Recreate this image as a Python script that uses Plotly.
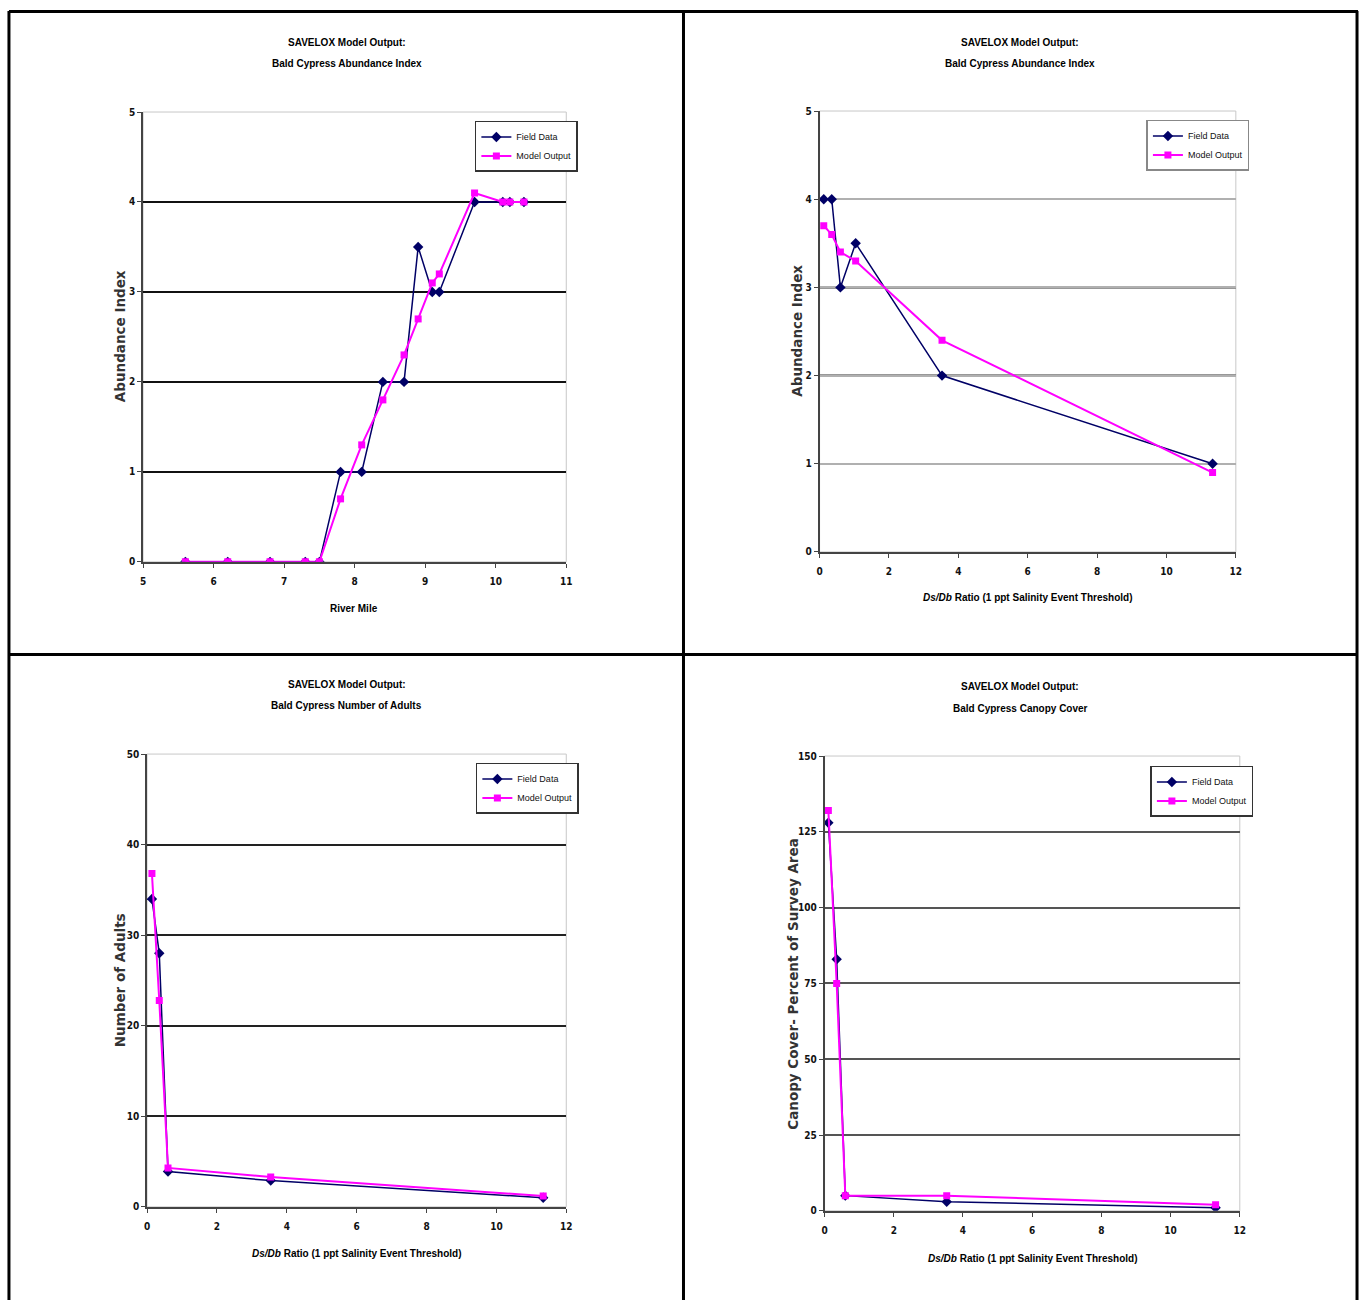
import plotly.graph_objects as go

W, H = 1367, 1306

# ---------------- data ----------------
river_mile = [5.6, 6.2, 6.8, 7.3, 7.5, 7.8, 8.1, 8.4, 8.7, 8.9, 9.1, 9.2, 9.7, 10.1, 10.2, 10.4]
abund_field_rm = [0, 0, 0, 0, 0, 1.0, 1.0, 2.0, 2.0, 3.5, 3.0, 3.0, 4.0, 4.0, 4.0, 4.0]
abund_model_rm = [0, 0, 0, 0, 0, 0.7, 1.3, 1.8, 2.3, 2.7, 3.1, 3.2, 4.1, 4.0, 4.0, 4.0]

dsdb_ratio = [0.12, 0.35, 0.6, 1.04, 3.53, 11.33]
abund_field_r = [4.0, 4.0, 3.0, 3.5, 2.0, 1.0]
abund_model_r = [3.7, 3.6, 3.4, 3.3, 2.4, 0.9]

dsdb_ratio_adults = [0.14, 0.35, 0.6, 3.54, 11.34]
adults_field = [34, 28, 3.9, 2.9, 1.0]
adults_model = [36.8, 22.8, 4.3, 3.3, 1.2]

dsdb_ratio_canopy = [0.11, 0.35, 0.6, 3.53, 11.3]
canopy_field = [128, 83, 5, 3, 1]
canopy_model = [132, 75, 5, 5, 2]

series_names = ["Field Data", "Model Output"]
title_line1 = "SAVELOX Model Output:"
titles_line2 = ["Bald Cypress Abundance Index", "Bald Cypress Abundance Index",
                "Bald Cypress Number of Adults", "Bald Cypress Canopy Cover"]
x_titles = ["River Mile", "<i>Ds/Db</i> Ratio (1 ppt Salinity Event Threshold)",
            "<i>Ds/Db</i> Ratio (1 ppt Salinity Event Threshold)",
            "<i>Ds/Db</i> Ratio (1 ppt Salinity Event Threshold)"]
y_titles = ["Abundance Index", "Abundance Index", "Number of Adults",
            "Canopy Cover- Percent of Survey Area"]

# ---------------- styling ----------------
FIELD_COLOR = "#000066"
MODEL_COLOR = "#ff00ff"
TITLE_FONT = "Liberation Sans, Arial, sans-serif"
TICK_FONT = "DejaVu Sans Condensed, Liberation Sans, sans-serif"
WIDE = "DejaVu Sans, sans-serif"

# plot areas in pixels: (x0, x1, ytop, ybottom)
areas = [(141, 567, 107, 561), (822, 1241, 106, 551),
         (145, 567, 755, 1212), (827, 1245, 757, 1216)]
x_ranges = [[5, 11], [0, 12], [0, 12], [0, 12]]
x_dticks = [1, 2, 2, 2]
y_ranges = [[0, 5], [0, 5], [0, 50], [0, 150]]
y_dticks = [1, 1, 10, 25]
grid_colors = ["#111111", "#b0b0b0", "#222222", "#555555"]
legend_boxes = [(475, 116), (1151, 115), (476, 764), (1155, 767)]
legend_border = ["#333333", "#888888", "#333333", "#333333"]
title_centers = [(346, 37, 58), (1024, 37, 58), (346, 685, 706), (1024, 687, 709)]
xtitle_pos = [(353, 608), (1031, 597), (356, 1259), (1036, 1264)]
ytitle_pos = [(118, 333), (799, 328), (118, 983), (795, 987)]

datasets = [
    (river_mile, abund_field_rm, river_mile, abund_model_rm),
    (dsdb_ratio, abund_field_r, dsdb_ratio, abund_model_r),
    (dsdb_ratio_adults, adults_field, dsdb_ratio_adults, adults_model),
    (dsdb_ratio_canopy, canopy_field, dsdb_ratio_canopy, canopy_model),
]

fig = go.Figure()
layout = dict(
    width=W, height=H, margin=dict(l=0, r=0, t=0, b=0),
    paper_bgcolor="white", plot_bgcolor="white", showlegend=True,
)
shapes = []
annotations = []

def px(x):
    return x / W

def py(y):
    return 1 - y / H

for i in range(4):
    n = "" if i == 0 else str(i + 1)
    xa, ya = "x" + n, "y" + n
    leg = "legend" if i == 0 else "legend" + str(i + 1)
    fx, fy, mx, my = datasets[i]
    fig.add_trace(go.Scatter(
        x=fx, y=fy, mode="lines+markers", name=series_names[0],
        xaxis=xa, yaxis=ya, legend=leg,
        line=dict(color=FIELD_COLOR, width=1.5),
        marker=dict(symbol="diamond", size=8, color=FIELD_COLOR)))
    fig.add_trace(go.Scatter(
        x=mx, y=my, mode="lines+markers", name=series_names[1],
        xaxis=xa, yaxis=ya, legend=leg,
        line=dict(color=MODEL_COLOR, width=2),
        marker=dict(symbol="square", size=7, color=MODEL_COLOR)))

    x0, x1, yt, yb = areas[i]
    tickfont = dict(family=TICK_FONT, size=10, color="#111", weight="bold")
    layout["xaxis" + n] = dict(
        domain=[px(x0), px(x1)], range=x_ranges[i], dtick=x_dticks[i], tick0=0,
        anchor=ya, showgrid=False, zeroline=False, showline=True,
        linecolor="#444", linewidth=1.5, ticks="outside", ticklen=4,
        tickcolor="#444", tickfont=tickfont, ticklabelstandoff=5)
    layout["yaxis" + n] = dict(
        domain=[py(yb), py(yt)], range=y_ranges[i], dtick=y_dticks[i], tick0=0,
        anchor=xa, showgrid=True, gridcolor=grid_colors[i], gridwidth=2,
        zeroline=False, showline=True, linecolor="#444", linewidth=1.5,
        ticks="outside", ticklen=4, tickcolor="#444", tickfont=tickfont)

    # light frame on top/right of plot area
    shapes.append(dict(type="rect", xref=xa + " domain", yref=ya + " domain",
                       x0=0, x1=1, y0=0, y1=1, line=dict(color="#c8c8c8", width=1),
                       layer="below"))

    lx, ly = legend_boxes[i]
    layout[leg] = dict(
        x=px(lx), y=py(ly), xanchor="left", yanchor="top",
        bgcolor="white", bordercolor=legend_border[i], borderwidth=1.5,
        font=dict(family="Liberation Sans, sans-serif", size=9, color="#111"),
        tracegroupgap=0, itemwidth=30)

    cx, t1, t2 = title_centers[i]
    tfont = dict(family=TITLE_FONT, size=10, color="#000", weight="bold")
    annotations.append(dict(x=px(cx), y=py(t1), xref="paper", yref="paper",
                            xanchor="center", yanchor="middle",
                            text=title_line1, showarrow=False, font=tfont))
    annotations.append(dict(x=px(cx), y=py(t2), xref="paper", yref="paper",
                            xanchor="center", yanchor="middle",
                            text=titles_line2[i], showarrow=False, font=tfont))
    tx, ty = xtitle_pos[i]
    annotations.append(dict(x=px(tx), y=py(ty), xref="paper", yref="paper",
                            xanchor="center", yanchor="middle",
                            text=x_titles[i], showarrow=False,
                            font=dict(family=TITLE_FONT, size=10, color="#000", weight="bold")))
    vx, vy = ytitle_pos[i]
    annotations.append(dict(x=px(vx), y=py(vy), xref="paper", yref="paper",
                            xanchor="center", yanchor="middle",
                            text=y_titles[i], showarrow=False, textangle=-90,
                            font=dict(family=WIDE, size=13.5, color="#333", weight="bold")))

# darker gridlines at 2 and 3 in the top-right panel
for gy in [2, 3]:
    shapes.append(dict(type="line", xref="x2 domain", yref="y2", x0=0, x1=1,
                       y0=gy, y1=gy, line=dict(color="#333333", width=2), layer="below"))

# panel borders
border = dict(color="black", width=3)
shapes += [
    dict(type="line", xref="paper", yref="paper", x0=px(6), x1=px(1364), y0=py(5.5), y1=py(5.5), line=border),
    dict(type="line", xref="paper", yref="paper", x0=px(6), x1=px(6), y0=py(5), y1=0, line=border),
    dict(type="line", xref="paper", yref="paper", x0=px(1363), x1=px(1363), y0=py(5), y1=0, line=border),
    dict(type="line", xref="paper", yref="paper", x0=px(685), x1=px(685), y0=py(5), y1=0, line=border),
    dict(type="line", xref="paper", yref="paper", x0=px(6), x1=px(1363), y0=py(654.5), y1=py(654.5), line=border),
]

layout["shapes"] = shapes
layout["annotations"] = annotations
fig.update_layout(**layout)
fig.write_html("out.html", config={"displayModeBar": False},
               post_script="document.body.style.margin='0px';")
